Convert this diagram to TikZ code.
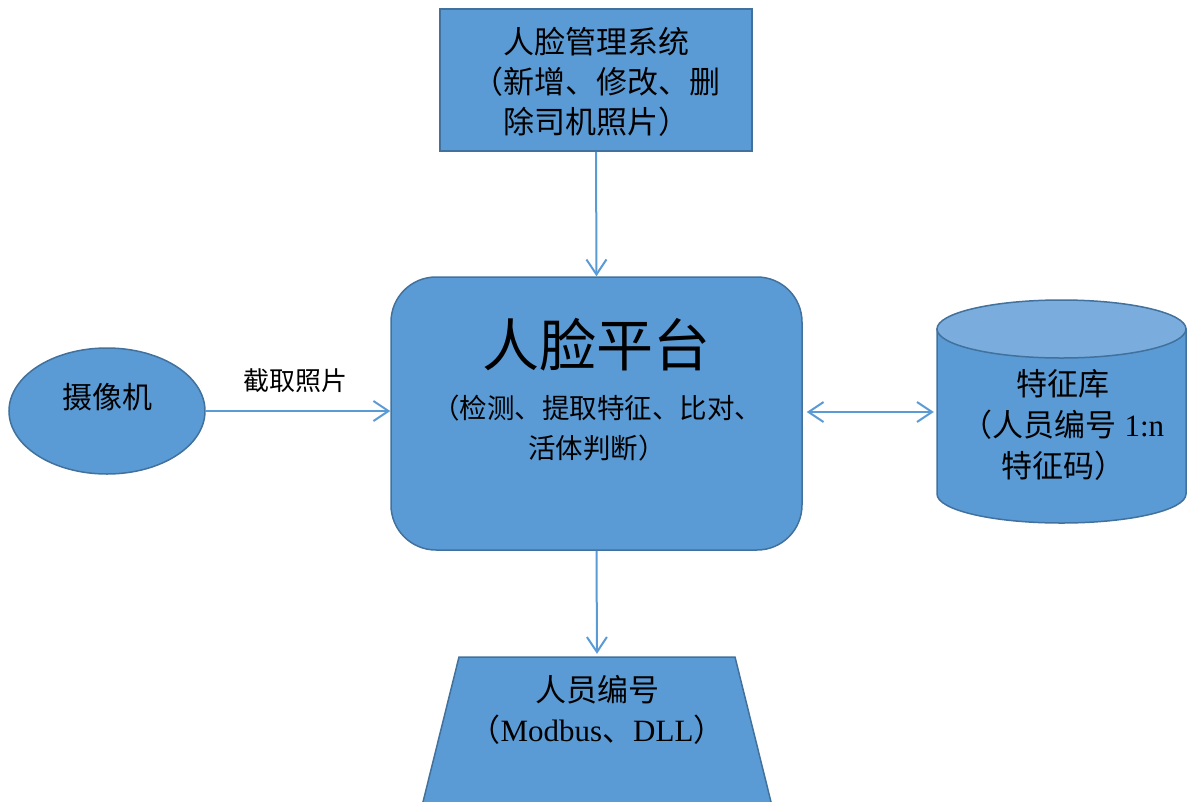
\documentclass[tikz,border=0pt]{standalone}
\usepackage{fontspec}
\setmainfont{Liberation Serif}
\newfontfamily\cjk{Noto Sans CJK SC}
\usetikzlibrary{arrows.meta,shapes.geometric}
\definecolor{boxfill}{HTML}{5B9BD5}
\definecolor{boxline}{HTML}{41719C}
\definecolor{topfill}{HTML}{7AADDD}
\definecolor{arrowc}{HTML}{5B9BD5}
\begin{document}
\begin{tikzpicture}[x=1pt,y=-1pt,
  box/.style={draw=boxline, fill=boxfill, line width=1.5pt},
  conn/.style={draw=arrowc, line width=2pt, -{Straight Barb[length=15pt,width=20pt,line width=2pt]}},
  dconn/.style={draw=arrowc, line width=2pt, {Straight Barb[length=15pt,width=20pt,line width=2pt]}-{Straight Barb[length=15pt,width=20pt,line width=2pt]}},
  lbl/.style={font=\cjk\fontsize{30}{40}\selectfont, align=center, text=black, inner sep=0}]
\useasboundingbox (0,0) rectangle (1189,801);

% management system box
\node[box, minimum width=312pt, minimum height=142pt, inner sep=0] (mgmt) at (596,80) {};
\node[lbl, font=\cjk\fontsize{31}{40}\selectfont] (mgmtT) at (596,82) {人脸管理系统\\（新增、修改、删\\除司机照片）};

% platform
\node[box, rounded corners=45pt, minimum width=411pt, minimum height=273pt, inner sep=0] (plat) at (596.5,413.5) {};
\node[lbl, font=\cjk\fontsize{57}{60}\selectfont] (platT) at (596,345) {人脸平台};
\node[lbl, font=\cjk\fontsize{27.5}{40}\selectfont] (platS) at (597,428) {（检测、提取特征、比对、\\活体判断）};

% camera
\node[box, ellipse, minimum width=196pt, minimum height=126pt, inner sep=0] (cam) at (107,411) {};
\node[lbl] (camT) at (107,397) {摄像机};

% feature database (cylinder)
\node[minimum width=249pt, minimum height=223pt, inner sep=0] (db) at (1061.5,412) {};
\draw[box] (937,329) -- (937,494) arc[start angle=180, end angle=360, x radius=124.5pt, y radius=29pt] -- (1186,329) -- cycle;
\draw[box, fill=topfill] (1061.5,329) ellipse [x radius=124.5pt, y radius=29pt];
\node[lbl, font=\fontsize{31}{41}\selectfont] (dbT) at (1063,425) {{\cjk 特征库}\\{\cjk （人员编号} 1:n\\{\cjk 特征码）}};

% output trapezoid
\draw[box] (459,657) -- (735,657) -- (773,810) -- (421,810) -- cycle;
\node[inner sep=0, minimum size=0] (trap) at (597,657) {};
\node[lbl, font=\fontsize{31}{40}\selectfont] (trapT) at (597,710) {{\cjk 人员编号}\\{\cjk （}Modbus{\cjk 、}DLL{\cjk ）}};

% connectors
\draw[conn] (mgmt.south) -- (plat.north);
\draw[conn] (cam.east) -- (cam.east -| plat.west);
\node[lbl, font=\cjk\fontsize{26}{30}\selectfont] (capT) at (295,381) {截取照片};
\draw[dconn, shorten <=4pt, shorten >=3pt] (plat.east |- db.west) -- (db.west);
\draw[conn, shorten >=3pt] (plat.south) -- (trap);
\end{tikzpicture}
\end{document}
